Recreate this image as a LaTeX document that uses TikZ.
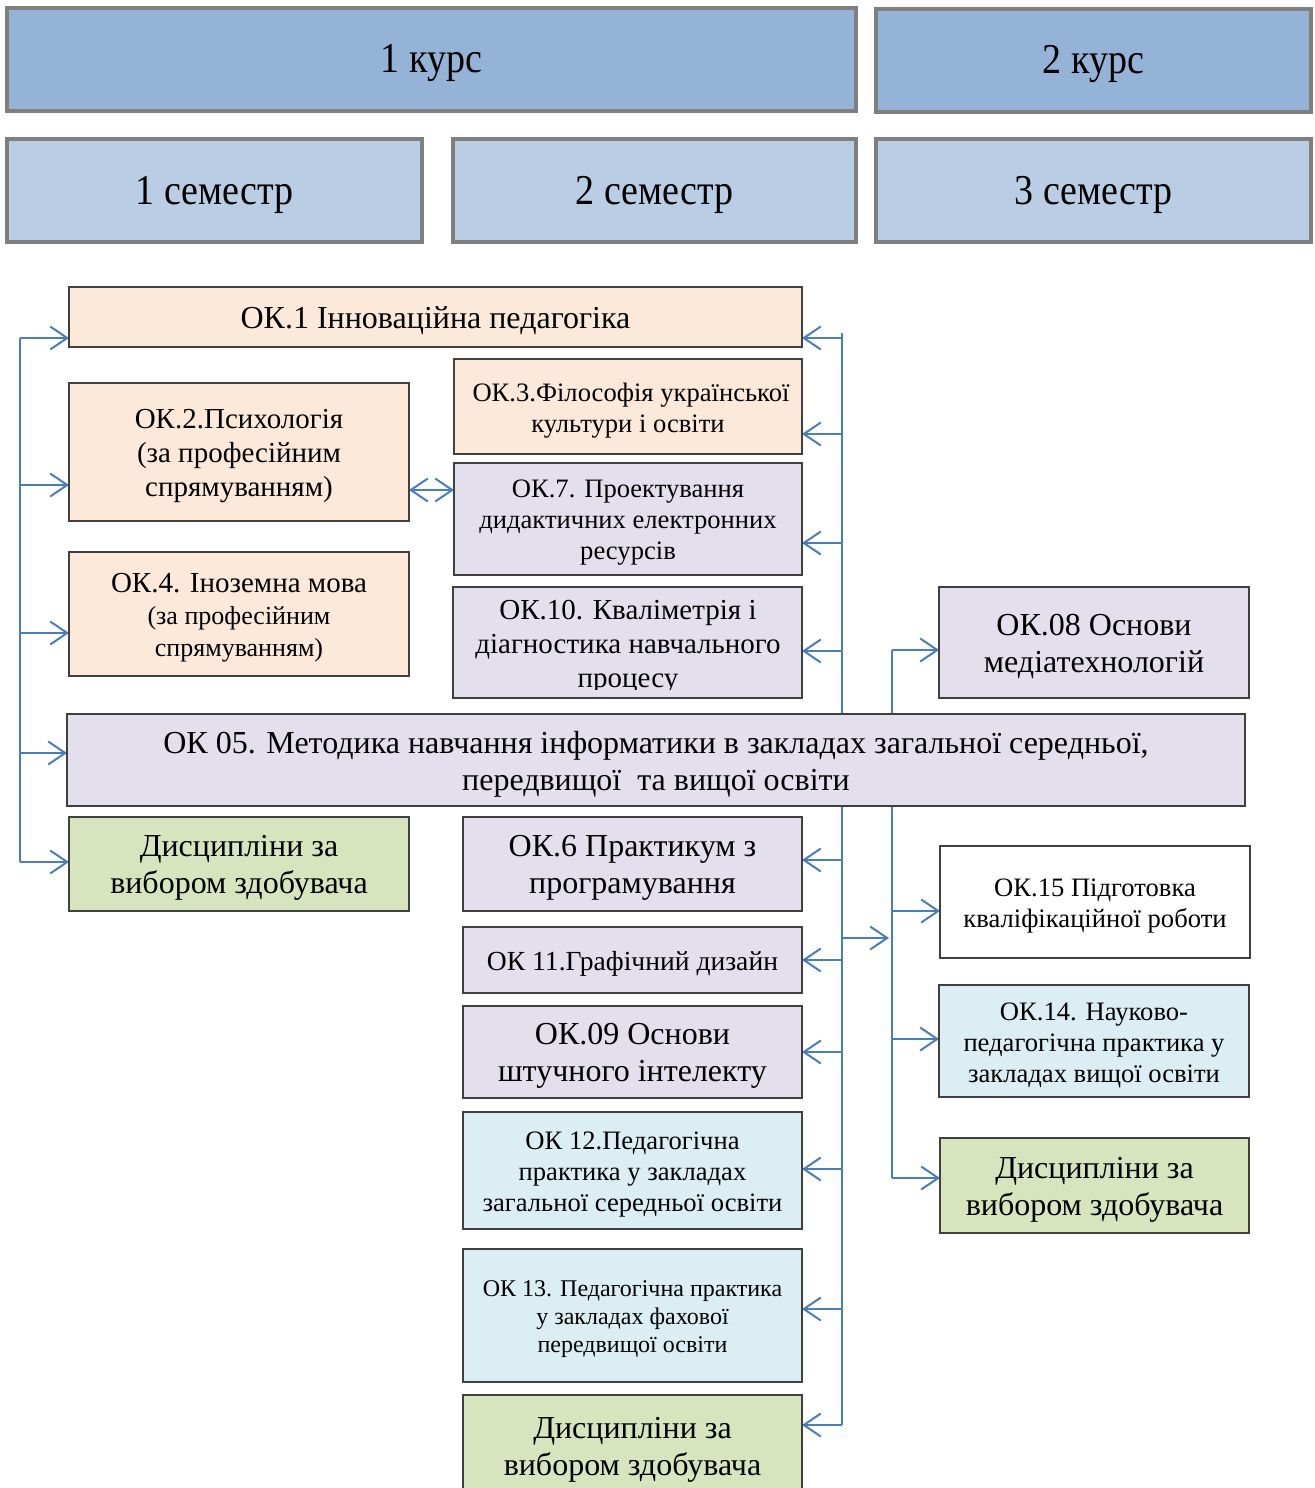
\documentclass[tikz,border=0pt]{standalone}
\usepackage{fontspec}
\usepackage{graphicx}
\setmainfont{Liberation Serif}
\usetikzlibrary{arrows.meta,backgrounds}
\definecolor{hdrA}{HTML}{95B3D7}
\definecolor{hdrB}{HTML}{B9CDE5}
\definecolor{peach}{HTML}{FDE9D9}
\definecolor{lav}{HTML}{E4DFEC}
\definecolor{lblue}{HTML}{DBEEF4}
\definecolor{lgreen}{HTML}{D7E4BD}
\definecolor{conn}{HTML}{4A7EBB}
\definecolor{hdrline}{HTML}{7F7F7F}
\definecolor{boxline}{HTML}{404040}
\pgfdeclarelayer{paper}
\pgfsetlayers{paper,background,main}
\newcommand\tallhdr[1]{\scalebox{1}[1.12]{#1}}
\tikzset{
  cell/.style n args={4}{anchor=north west, at={(#1,#2)}, outer sep=0pt,
     minimum width={(#3-#1)*0.5pt}, minimum height={(#4-#2)*0.5pt}},
  tx/.style={align=center, inner sep=0pt, yshift=-2pt},
  hdr/.style={draw=hdrline, line width=2pt, fill=hdrA, inner sep=0pt},
  sem/.style={hdr, fill=hdrB},
  fH/.style={font=\fontsize{19}{22}\selectfont},
  box/.style={draw=boxline, line width=0.7pt, inner sep=0pt},
  fA/.style={font=\fontsize{16}{18.5}\selectfont},
  fB/.style={font=\fontsize{14.5}{17}\selectfont},
  fC/.style={font=\fontsize{13.3}{15.5}\selectfont},
  fD/.style={font=\fontsize{12}{14}\selectfont},
  bus/.style={draw=conn, line width=1pt},
  arr/.style={draw=conn, line width=1pt, -{Straight Barb[length=8.5pt,width=11.5pt]}},
  biarr/.style={draw=conn, line width=1pt, {Straight Barb[length=8.5pt,width=11.5pt]}-{Straight Barb[length=8.5pt,width=11.5pt]}},
}
\begin{document}
\begin{tikzpicture}[x=0.5pt,y=-0.5pt]
\useasboundingbox (0,0) rectangle (1314,1488);
\begin{pgfonlayer}{paper}
\fill[white] (0,0) rectangle (1314,1488);
\end{pgfonlayer}
% headers
\node[hdr, cell={7}{8}{856}{111}, label={[tx, fH]center:\tallhdr{1 курс}}] (k1) {};
\node[hdr, cell={876}{9}{1311}{112}, label={[tx, fH]center:\tallhdr{2 курс}}] (k2) {};
\node[sem, cell={7}{139}{422}{242}, label={[tx, fH]center:\tallhdr{1 семестр}}] (s1) {};
\node[sem, cell={453}{139}{856}{242}, label={[tx, fH]center:\tallhdr{2 семестр}}] (s2) {};
\node[sem, cell={876}{139}{1311}{242}, label={[tx, fH]center:\tallhdr{3 семестр}}] (s3) {};
% course boxes
\node[box, fill=peach, cell={69}{287}{802}{347},
  label={[tx, fA]center:{ОК.1 Інноваційна педагогіка}}] (ok1) {};
\node[box, fill=peach, cell={69}{383}{409}{521},
  label={[tx, fB]center:{ОК.2.Психологія\\(за професійним\\спрямуванням)}}] (ok2) {};
\node[box, fill=peach, cell={454}{359}{802}{454},
  label={[tx, fC]center:{\hspace*{3pt}ОК.3.Філософія української\\культури і освіти}}] (ok3) {};
\node[box, fill=lav, cell={454}{463}{802}{575},
  label={[tx, fC]center:{ОК.7. Проектування\\дидактичних електронних\\ресурсів}}] (ok7) {};
\node[box, fill=peach, cell={69}{552}{409}{676},
  label={[tx, font=\fontsize{13}{16}\selectfont]center:{{\fontsize{14.5}{16}\selectfont ОК.4. Іноземна мова}\\(за професійним\\спрямуванням)}}] (ok4) {};
\node[box, fill=lav, cell={453}{587}{802}{698}] (ok10) {};
\begin{scope}
\clip (453,587) rectangle (802,689);
\node[align=center, fB, inner sep=0pt] (ok10t) at (628,647) {ОК.10. Кваліметрія і\\діагностика навчального\\процесу};
\end{scope}
\node[box, fill=lav, cell={939}{587}{1249}{698},
  label={[tx, fA]center:{ОК.08 Основи\\медіатехнологій}}] (ok08) {};
\node[box, fill=lav, cell={67}{714}{1245}{806},
  label={[tx, fA]center:{ОК 05. Методика навчання інформатики в закладах загальної середньої,\\передвищої\ \ та вищої освіти}}] (ok05) {};
\node[box, fill=lgreen, cell={69}{817}{409}{911},
  label={[tx, fA]center:{Дисципліни за\\вибором здобувача}}] (dl) {};
\node[box, fill=lav, cell={463}{817}{802}{911},
  label={[tx, fA]center:{ОК.6 Практикум з\\програмування}}] (ok6) {};
\node[box, fill=lav, cell={463}{927}{802}{993},
  label={[tx, font=\fontsize{13.8}{16}\selectfont]center:{ОК 11.Графічний дизайн}}] (ok11) {};
\node[box, fill=lav, cell={463}{1006}{802}{1098},
  label={[tx, fA]center:{ОК.09 Основи\\штучного інтелекту}}] (ok09) {};
\node[box, fill=lblue, cell={463}{1112}{802}{1229},
  label={[tx, fC]center:{ОК 12.Педагогічна\\практика у закладах\\загальної середньої освіти}}] (ok12) {};
\node[box, fill=lblue, cell={463}{1249}{802}{1382},
  label={[tx, fD]center:{ОК 13. Педагогічна практика\\у закладах фахової\\передвищої освіти}}] (ok13) {};
\node[box, fill=lgreen, cell={463}{1395}{802}{1496},
  label={[tx, fA]center:{Дисципліни за\\вибором здобувача}}] (dm) {};
\node[box, fill=white, cell={940}{846}{1250}{958},
  label={[tx, fC]center:{ОК.15 Підготовка\\кваліфікаційної роботи}}] (ok15) {};
\node[box, fill=lblue, cell={939}{985}{1249}{1097},
  label={[tx, fC]center:{ОК.14. Науково-\\педагогічна практика у\\закладах вищої освіти}}] (ok14) {};
\node[box, fill=lgreen, cell={940}{1138}{1249}{1233},
  label={[tx, fA]center:{Дисципліни за\\вибором здобувача}}] (dr) {};
% connectors
\begin{scope}[on background layer]
% left bus
\coordinate (l1) at (20,338);
\coordinate (l2) at (20,485);
\coordinate (l3) at (20,633);
\coordinate (l4) at (20,753);
\coordinate (l5) at (20,862);
\draw[bus] (l1) -- (l5);
\draw[arr] (l1) -- (l1 -| ok1.west);
\draw[arr] (l2) -- (l2 -| ok2.west);
\draw[arr] (l3) -- (l3 -| ok4.west);
\draw[arr] (l4) -- (l4 -| ok05.west);
\draw[arr] (l5) -- (l5 -| dl.west);
% middle bus
\coordinate (mt) at (842,333);
\coordinate (m1) at (842,338);
\coordinate (m3) at (842,434);
\coordinate (m7) at (842,543);
\coordinate (m10) at (842,651);
\coordinate (m6) at (842,860);
\coordinate (mx) at (842,938);
\coordinate (m11) at (842,960);
\coordinate (m09) at (842,1052);
\coordinate (m12) at (842,1169);
\coordinate (m13) at (842,1309);
\coordinate (md) at (842,1425);
\draw[bus] (mt) -- (md);
\draw[arr] (m1) -- (m1 -| ok1.east);
\draw[arr] (m3) -- (m3 -| ok3.east);
\draw[arr] (m7) -- (m7 -| ok7.east);
\draw[arr] (m10) -- (m10 -| ok10.east);
\draw[arr] (m6) -- (m6 -| ok6.east);
\draw[arr] (m11) -- (m11 -| ok11.east);
\draw[arr] (m09) -- (m09 -| ok09.east);
\draw[arr] (m12) -- (m12 -| ok12.east);
\draw[arr] (m13) -- (m13 -| ok13.east);
\draw[arr] (md) -- (md -| dm.east);
% right bus
\coordinate (r1) at (892,650);
\coordinate (rx) at (889,938);
\coordinate (r2) at (892,911);
\coordinate (r3) at (892,1039);
\coordinate (r4) at (892,1178);
\draw[bus] (r1) -- (r4);
\draw[arr] (mx) -- (rx);
\draw[arr] (r1) -- (r1 -| ok08.west);
\draw[arr] (r2) -- (r2 -| ok15.west);
\draw[arr] (r3) -- (r3 -| ok14.west);
\draw[arr] (r4) -- (r4 -| dr.west);
% bidirectional
\coordinate (bi) at (430,490);
\draw[biarr] (bi -| ok2.east) -- (bi -| ok7.west);
\end{scope}
\end{tikzpicture}
\end{document}
